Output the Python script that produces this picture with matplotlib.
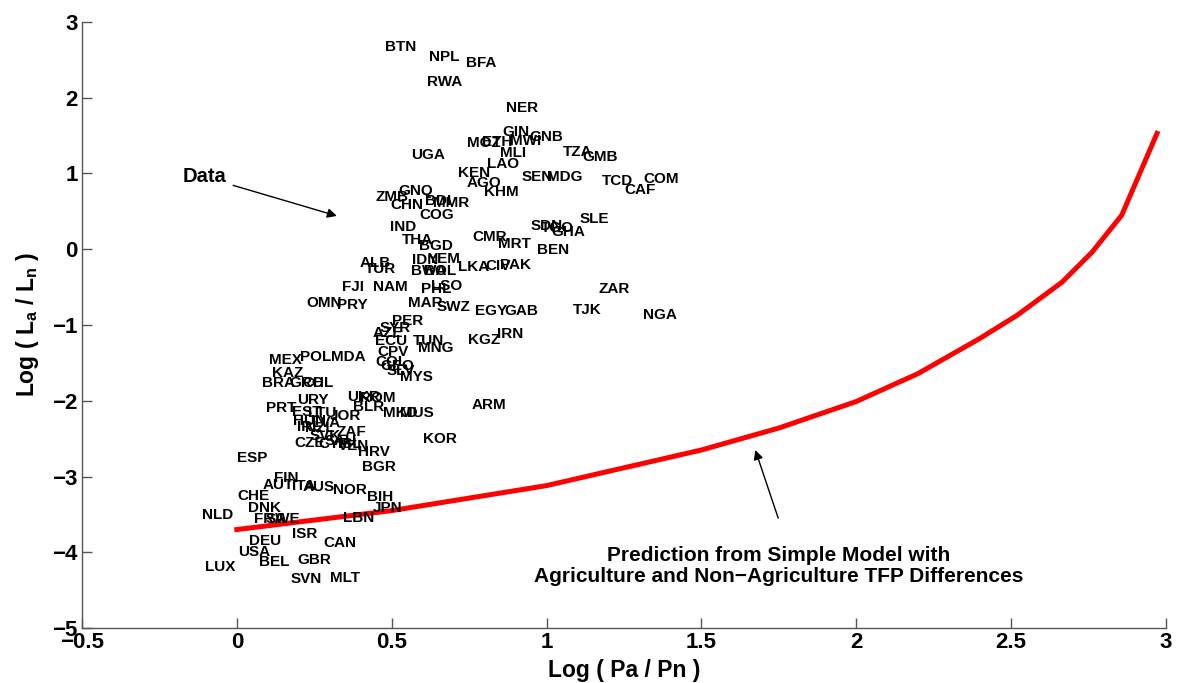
import matplotlib
matplotlib.use("Agg")
import matplotlib.pyplot as plt

plt.rcParams['font.family'] = ['Liberation Sans', 'DejaVu Sans']
plt.rcParams['font.weight'] = 'bold'
plt.rcParams['axes.unicode_minus'] = True
plt.rcParams['mathtext.fontset'] = 'custom'
plt.rcParams['mathtext.rm'] = 'Liberation Sans:bold'
plt.rcParams['mathtext.bf'] = 'Liberation Sans:bold'
plt.rcParams['mathtext.it'] = 'Liberation Sans:bold'

# Country codes and their positions (log Pa/Pn, log La/Ln)
codes = ["BTN", "NPL", "BFA", "RWA", "NER", "GIN", "GNB", "MOZ", "ETH", "MWI",
         "MLI", "UGA", "TZA", "GMB", "LAO", "KEN", "SEN", "MDG", "AGO", "KHM",
         "TCD", "COM", "CAF", "SLE", "SDN", "TGO", "GHA", "MRT", "BEN", "ZMB",
         "GNQ", "CHN", "BDI", "MMR", "COG", "IND", "THA", "BGD", "CMR", "ALB",
         "TUR", "IDN", "YEM", "BWA", "BOL", "LKA", "CIV", "PAK", "FJI", "NAM",
         "LSO", "PHL", "OMN", "PRY", "MAR", "SWZ", "EGY", "GAB", "ZAR", "TJK",
         "NGA", "PER", "SYR", "AZE", "ECU", "TUN", "MNG", "KGZ", "IRN", "CPV",
         "MEX", "POL", "MDA", "COL", "GEO", "SLV", "MYS", "KAZ", "BRA", "GRC",
         "CHL", "URY", "UKR", "ROM", "BLR", "PRT", "EST", "LTU", "JOR", "MKD",
         "MUS", "KOR", "ARM", "HUN", "IRL", "NZL", "LVA", "SVK", "ZAF", "CZE",
         "CYP", "SAU", "ISL", "VEN", "HRV", "BGR", "ESP", "FIN", "AUT", "ITA",
         "AUS", "NOR", "BIH", "JPN", "CHE", "NLD", "DNK", "FRA", "SWE", "LBN",
         "ISR", "CAN", "DEU", "USA", "BEL", "GBR", "LUX", "SVN", "MLT"]

log_pa_pn = [0.478, 0.620, 0.739, 0.613, 0.869, 0.856, 0.946, 0.743, 0.791, 0.881,
             0.849, 0.562, 1.053, 1.117, 0.807, 0.714, 0.920, 1.001, 0.743, 0.798,
             1.179, 1.314, 1.250, 1.108, 0.949, 0.982, 1.017, 0.843, 0.969, 0.449,
             0.520, 0.497, 0.607, 0.633, 0.591, 0.494, 0.533, 0.588, 0.762, 0.397,
             0.413, 0.565, 0.617, 0.562, 0.604, 0.714, 0.801, 0.849, 0.339, 0.439,
             0.626, 0.594, 0.223, 0.323, 0.552, 0.646, 0.768, 0.865, 1.169, 1.085,
             1.311, 0.500, 0.462, 0.439, 0.446, 0.568, 0.584, 0.746, 0.840, 0.455,
             0.103, 0.203, 0.304, 0.446, 0.465, 0.484, 0.526, 0.113, 0.081, 0.171,
             0.213, 0.194, 0.355, 0.397, 0.375, 0.094, 0.178, 0.229, 0.300, 0.471,
             0.526, 0.601, 0.759, 0.181, 0.194, 0.220, 0.242, 0.236, 0.323, 0.187,
             0.262, 0.284, 0.326, 0.326, 0.391, 0.404, 0.000, 0.119, 0.084, 0.178,
             0.213, 0.310, 0.420, 0.439, 0.003, -0.113, 0.036, 0.055, 0.094, 0.342,
             0.178, 0.281, 0.039, 0.003, 0.071, 0.194, -0.103, 0.174, 0.300]

log_la_ln = [2.667, 2.535, 2.455, 2.205, 1.861, 1.545, 1.479, 1.399, 1.413, 1.426,
             1.267, 1.241, 1.281, 1.215, 1.122, 1.003, 0.950, 0.950, 0.871, 0.752,
             0.898, 0.924, 0.779, 0.396, 0.304, 0.277, 0.224, 0.066, -0.013, 0.686,
             0.766, 0.581, 0.634, 0.607, 0.449, 0.290, 0.119, 0.040, 0.158, -0.185,
             -0.264, -0.145, -0.132, -0.290, -0.290, -0.238, -0.224, -0.211, -0.502, -0.502,
             -0.488, -0.528, -0.713, -0.739, -0.713, -0.766, -0.818, -0.818, -0.528, -0.805,
             -0.871, -0.950, -1.043, -1.109, -1.215, -1.215, -1.307, -1.201, -1.122, -1.360,
             -1.465, -1.426, -1.426, -1.492, -1.545, -1.611, -1.690, -1.637, -1.769, -1.769,
             -1.769, -1.993, -1.954, -1.967, -2.086, -2.099, -2.152, -2.165, -2.205, -2.165,
             -2.165, -2.508, -2.059, -2.271, -2.350, -2.363, -2.297, -2.469, -2.416, -2.561,
             -2.574, -2.535, -2.574, -2.601, -2.680, -2.878, -2.759, -3.023, -3.116, -3.129,
             -3.142, -3.182, -3.274, -3.419, -3.261, -3.512, -3.419, -3.564, -3.564, -3.551,
             -3.762, -3.881, -3.855, -4.000, -4.132, -4.106, -4.198, -4.356, -4.343]

# Model prediction curve
model_x = [0.0, 0.5, 1.0, 1.5, 1.75, 2.0, 2.2, 2.4, 2.52, 2.664, 2.761, 2.857, 2.971]
model_y = [-3.70, -3.45, -3.12, -2.65, -2.36, -2.01, -1.64, -1.175, -0.87, -0.436, -0.04, 0.449, 1.53]

xticks = [-0.5, 0, 0.5, 1, 1.5, 2, 2.5, 3]
yticks = [-5, -4, -3, -2, -1, 0, 1, 2, 3]

fig = plt.figure(figsize=(11.81, 6.83), dpi=100)
ax = fig.add_axes([0.0694, 0.0805, 0.9179, 0.8873])

ax.plot(model_x, model_y, color='#ff0000', lw=3.6, solid_joinstyle='miter')

for c, x, y in zip(codes, log_pa_pn, log_la_ln):
    ax.text(x, y, c, ha='left', va='center', fontsize=11, fontweight='bold', color='black')

ax.set_xlim(-0.5, 3)
ax.set_ylim(-5, 3)
ax.set_xticks(xticks)
ax.set_yticks(yticks)
ax.set_xticklabels(['\u22120.5', '0', '0.5', '1', '1.5', '2', '2.5', '3'])
ax.set_yticklabels(['\u22125', '\u22124', '\u22123', '\u22122', '\u22121', '0', '1', '2', '3'])
for s in ['top', 'right']:
    ax.spines[s].set_visible(False)
for s in ['left', 'bottom']:
    ax.spines[s].set_color('#555555')
    ax.spines[s].set_linewidth(1.0)
ax.tick_params(direction='in', length=7, width=1, color='#555555', labelsize=16,
               labelcolor='black', pad=3)
for lab in ax.get_xticklabels() + ax.get_yticklabels():
    lab.set_fontweight('bold')

ax.set_xlabel('Log ( Pa / Pn )', fontsize=16.5, fontweight='bold', labelpad=4.5)
ax.set_ylabel(r'Log ( L$_{\mathbf{a}}$ / L$_{\mathbf{n}}$ )', fontsize=16.5, fontweight='bold', labelpad=8)

# Annotations
ax.annotate('Data', xy=(0.323, 0.44), xytext=(-0.175, 0.955),
            fontsize=14.5, fontweight='bold', ha='left', va='center',
            arrowprops=dict(arrowstyle='-|>', color='black', lw=1.0, mutation_scale=14,
                            shrinkA=3, shrinkB=0))
ax.annotate('', xy=(1.674, -2.65), xytext=(1.748, -3.55),
            arrowprops=dict(arrowstyle='-|>', color='black', lw=1.0, mutation_scale=14,
                            shrinkA=0, shrinkB=0))
ax.text(1.748, -4.18, 'Prediction from Simple Model with\nAgriculture and Non\u2212Agriculture TFP Differences',
        ha='center', va='center', fontsize=15, fontweight='bold', linespacing=1.15)

fig.savefig('out.png', dpi=100)
